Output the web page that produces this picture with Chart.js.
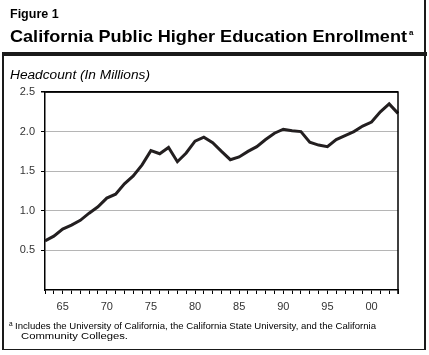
<!DOCTYPE html>
<html><head><meta charset="utf-8">
<script src="https://cdn.jsdelivr.net/npm/chart.js@4.4.1/dist/chart.umd.min.js"></script>
<style>
html,body{margin:0;padding:0;background:#fff;}
#wrap{position:relative;width:429px;height:355px;overflow:hidden;font-family:"Liberation Sans",Arial,Helvetica,sans-serif;color:#000;}
.t{position:absolute;white-space:nowrap;transform-origin:0 0;line-height:1;}
.ln{position:absolute;background:#1a1a1a;}
canvas{position:absolute;left:0;top:0;}
</style></head>
<body>
<div id="wrap">
  <canvas id="c" width="429" height="355"></canvas>
  <div class="ln" style="left:2px;top:52px;width:425px;height:4px;"></div>
  <div class="ln" style="left:2px;top:56px;width:1.5px;height:294px;"></div>
  <div class="ln" style="left:424px;top:0px;width:1.5px;height:350px;"></div>
  <div class="ln" style="left:2px;top:348.5px;width:423px;height:1.5px;"></div>
  <div class="t" id="fig" style="left:10px;top:8.4px;font-size:12.5px;font-weight:bold;">Figure 1</div>
  <div class="t" id="title" style="left:10px;top:28px;font-size:16.5px;font-weight:bold;">California Public Higher Education Enrollment</div>
  <div class="t" id="sup" style="left:409px;top:29px;font-size:8px;font-weight:bold;">a</div>
  <div class="t" id="sub" style="left:10px;top:68.2px;font-size:13.7px;font-style:italic;">Headcount (In Millions)</div>
  <div class="t" style="left:9px;top:321px;font-size:6.5px;">a</div>
  <div class="t" id="fn1" style="left:14.5px;top:321px;font-size:9.6px;">Includes the University of California, the California State University, and the California</div>
  <div class="t" id="fn2" style="left:21px;top:330.6px;font-size:9.6px;">Community Colleges.</div>
</div>
<script>
const years = [1963,1964,1965,1966,1967,1968,1969,1970,1971,1972,1973,1974,1975,1976,1977,1978,1979,1980,1981,1982,1983,1984,1985,1986,1987,1988,1989,1990,1991,1992,1993,1994,1995,1996,1997,1998,1999,2000,2001,2002,2003];
const enrollment = [0.62,0.68,0.77,0.82,0.88,0.97,1.05,1.16,1.21,1.34,1.44,1.58,1.76,1.72,1.80,1.62,1.73,1.88,1.93,1.86,1.75,1.645,1.68,1.75,1.81,1.90,1.98,2.03,2.01,2.00,1.865,1.83,1.81,1.90,1.95,2.00,2.07,2.12,2.25,2.35,2.23];
const yTicks = [0.5,1.0,1.5,2.0,2.5];

function fit(id, w){
  const el=document.getElementById(id);
  const nat=el.getBoundingClientRect().width;
  el.style.transform='scaleX('+(w/nat)+')';
}
fit('title',397);
fit('fn1',361);
fit('fn2',107);

const font={family:'"Liberation Sans", Arial, sans-serif', size:11};
const boxPlugin={
  id:'box',
  afterDraw(chart){
    const a=chart.chartArea, ctx=chart.ctx;
    ctx.save();
    ctx.strokeStyle='#000';ctx.lineWidth=1.5;
    ctx.beginPath();
    ctx.moveTo(a.left,a.top);ctx.lineTo(a.right,a.top);ctx.lineTo(a.right,a.bottom+4);
    ctx.stroke();
    ctx.restore();
  }
};
new Chart(document.getElementById('c'),{
  type:'line',
  data:{labels:years.map(String),datasets:[{data:enrollment,borderColor:'#231f20',borderWidth:3,pointRadius:0,tension:0,fill:false}]},
  options:{
    responsive:false,animation:false,
    layout:{padding:{left:0,top:92,right:31,bottom:0}},
    plugins:{legend:{display:false},tooltip:{enabled:false}},
    scales:{
      x:{type:'category',offset:false,
        grid:{drawOnChartArea:false,drawTicks:true,tickLength:4,color:'#000',lineWidth:1},
        border:{color:'#000',width:1.5},
        ticks:{autoSkip:false,maxRotation:0,minRotation:0,padding:6,color:'#333',font,
          callback:(v,i)=> years[i]%5===0 ? String(years[i]%100).padStart(2,'0') : ''},
        afterFit:s=>{s.height=65;}
      },
      y:{min:0,max:2.5,
        afterBuildTicks:s=>{s.ticks=[0].concat(yTicks).map(v=>({value:v}));},
        ticks:{padding:6,color:'#333',font,callback:v=> v===0?'':v.toFixed(1)},
        grid:{color:c=> c.tick.value===2.5?'#000':(c.tick.value===0?'rgba(0,0,0,0)':'#b5b5b5'),
              tickColor:c=> c.tick.value===0?'rgba(0,0,0,0)':'#000',tickLength:4,lineWidth:c=>c.tick.value===2.5?1.5:1},
        border:{color:'#000',width:1.5},
        afterFit:s=>{s.width=45;}
      }
    }
  },
  plugins:[boxPlugin]
});
</script>
</body></html>
